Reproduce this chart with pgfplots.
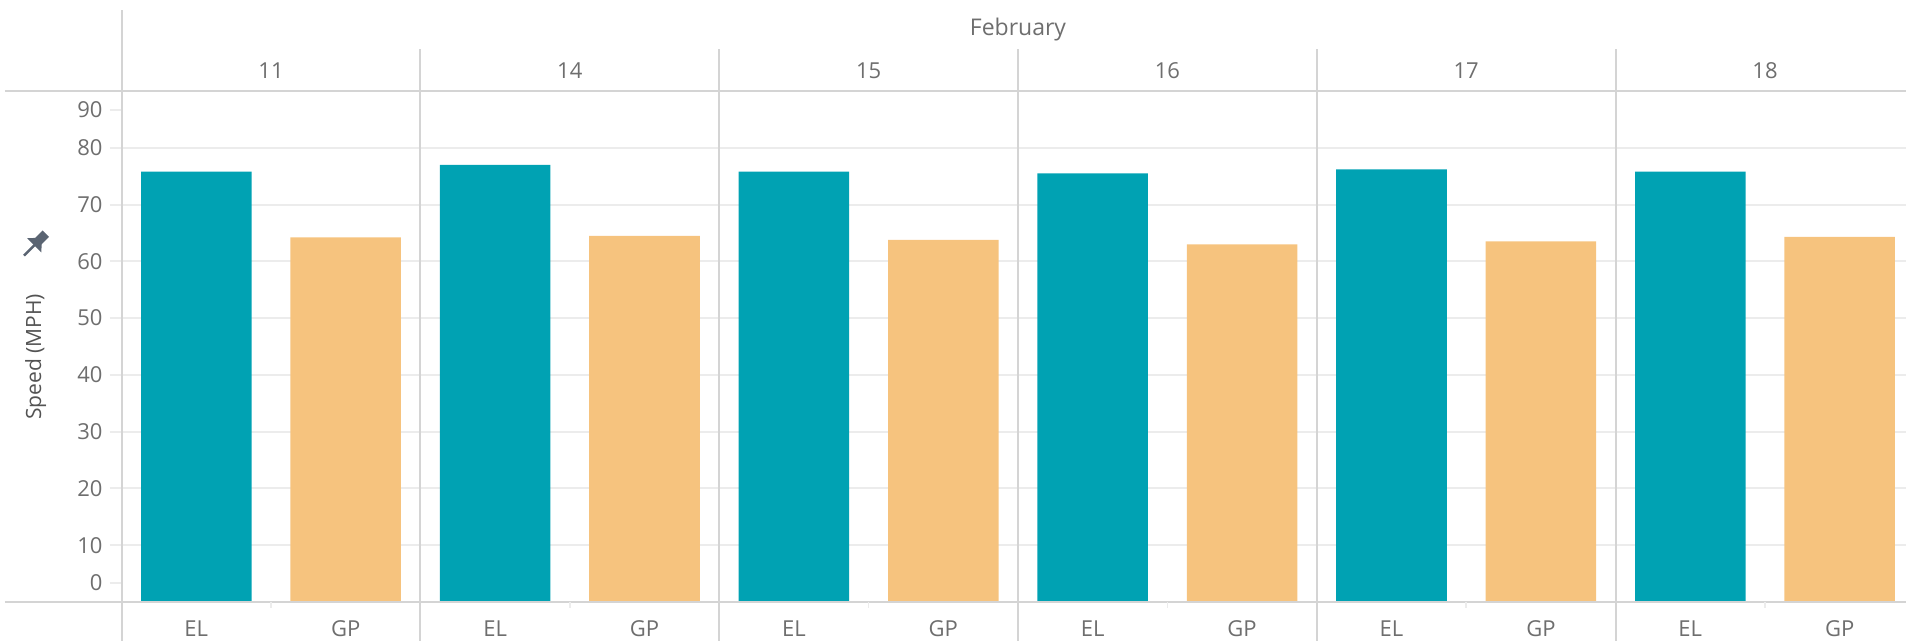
\documentclass[border=0pt]{standalone}
\usepackage{pgfplots}
\pgfplotsset{compat=1.18}
\usepackage{fontspec}
\setmainfont{Open Sans}
\definecolor{elc}{RGB}{0,162,179}
\definecolor{gpc}{RGB}{246,195,126}
\definecolor{sep}{RGB}{212,212,212}
\definecolor{gridc}{RGB}{236,236,236}
\definecolor{txt}{RGB}{110,110,110}
\definecolor{pinc}{RGB}{90,100,114}
\begin{document}
\begin{tikzpicture}
\path[use as bounding box] (-60.8pt,-19.5pt) rectangle (892.2pt,301pt);
\begin{axis}[
  at={(0,0)}, anchor=south west,
  width=896.4pt, height=255.5pt, scale only axis,
  xmin=-0.5, xmax=11.5, ymin=0, ymax=90,
  axis line style={draw=none},
  ytick={10,20,...,80},
  extra y ticks={3.35,86.65}, extra y tick labels={0,90},
  extra y tick style={grid=none, tick style={draw=none}},
  ymajorgrids, grid style={gridc, line width=1pt},
  ytick style={draw=gridc, line width=1pt},
  major tick length=6pt, tick align=outside,
  xtick={0,...,11},
  xticklabels={EL,GP,EL,GP,EL,GP,EL,GP,EL,GP,EL,GP},
  xtick style={draw=none},
  yticklabel style={font=\fontsize{11}{12}\selectfont, color=txt},
  xticklabel style={font=\fontsize{11}{12}\selectfont, color=txt},
  /pgf/number format/assume math mode=true,
  ybar, bar width=0.74, bar shift=0pt,
  clip=false,
]
\addplot[fill=elc, draw=none] coordinates {(0,75.8) (2,77.0) (4,75.8) (6,75.5) (8,76.2) (10,75.8)};
\addplot[fill=gpc, draw=none] coordinates {(1,64.2) (3,64.5) (5,63.8) (7,63.0) (9,63.5) (11,64.3)};
\end{axis}
\draw[sep, line width=1pt] (-58.3pt,255.5pt) -- (892.2pt,255.5pt);
\draw[sep, line width=1pt] (-58.3pt,0) -- (892.2pt,0);
\draw[sep, line width=1pt] (0,-19.5pt) -- (0,296pt);
\foreach \k in {1,...,5} \draw[sep, line width=1pt] (\k*149.4pt,-19.5pt) -- (\k*149.4pt,276.5pt);
\foreach \k in {0,...,5} \draw[gridc, line width=0.8pt] (\k*149.4pt+74.7pt,0) -- (\k*149.4pt+74.7pt,-3pt);
\foreach \k/\d in {0/11,1/14,2/15,3/16,4/17,5/18}
  \node[text=txt, font=\fontsize{11}{12}\selectfont] at (\k*149.4pt+74.7pt,265.75pt) {\d};
\node[text=txt, font=\fontsize{11.5}{12}\selectfont] at (448.2pt,286pt) {February};
\node[text=txt!75!black, font=\fontsize{10.5}{12}\selectfont, rotate=90] at (-43pt,122.5pt) {Speed (MPH)};
% pin icon
\begin{scope}[shift={(-43.5pt,178.5pt)}, rotate=-45, x=0.5pt, y=0.5pt]
  \fill[pinc] (-4.5,5) rectangle (4.5,16);
  \fill[pinc] (-4.5,5.5) -- (-10,-0.5) -- (10,-0.5) -- (4.5,5.5) -- cycle;
  \draw[pinc, line width=1.2pt] (0,0) -- (0,-15);
\end{scope}
\end{tikzpicture}
\end{document}
